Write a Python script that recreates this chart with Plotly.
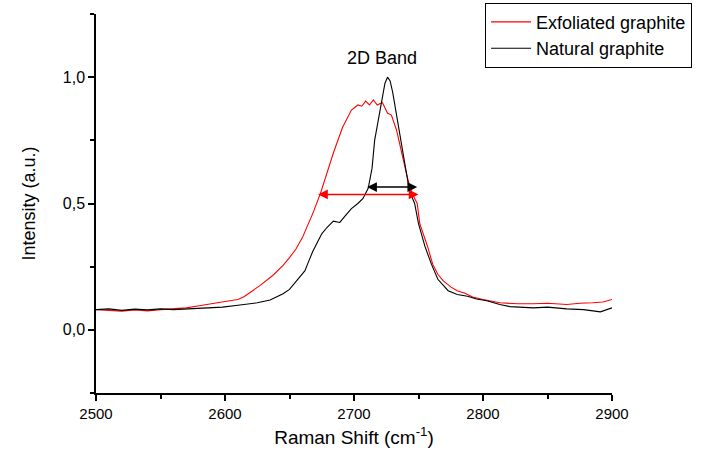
import plotly.graph_objects as go

# Raman shift (cm^-1) and intensity readings
x_exf = [2500, 2510, 2520, 2530, 2540, 2550, 2560, 2570, 2580, 2590, 2600, 2610, 2615, 2620, 2627, 2637,
         2645, 2650, 2655, 2660, 2665, 2668, 2674, 2677, 2684, 2691, 2698, 2703, 2706, 2709, 2712,
         2715, 2718, 2722, 2726, 2729, 2733, 2737, 2742, 2745, 2749, 2751, 2757, 2761, 2765, 2769,
         2775, 2780, 2786, 2792, 2800, 2813, 2827, 2839, 2850, 2865, 2875, 2885, 2893, 2900]
y_exf = [0.080, 0.078, 0.074, 0.079, 0.075, 0.080, 0.082, 0.087, 0.095, 0.105, 0.112, 0.120, 0.132,
         0.150, 0.175, 0.215, 0.255, 0.286, 0.320, 0.365, 0.420, 0.460, 0.540, 0.590, 0.700, 0.800,
         0.870, 0.890, 0.885, 0.905, 0.890, 0.910, 0.890, 0.900, 0.857, 0.850, 0.790, 0.700, 0.590,
         0.540, 0.500, 0.420, 0.330, 0.260, 0.220, 0.195, 0.170, 0.155, 0.145, 0.130, 0.120, 0.107,
         0.103, 0.103, 0.105, 0.100, 0.105, 0.107, 0.110, 0.120]

x_nat = [2500, 2510, 2520, 2530, 2540, 2550, 2560, 2573, 2585, 2598, 2610, 2625, 2635, 2645, 2650,
         2656, 2662, 2664, 2668, 2675, 2679, 2684, 2689, 2693, 2698, 2703, 2707, 2711, 2714, 2716,
         2719, 2722, 2724, 2726, 2728, 2730, 2733, 2736, 2739, 2741, 2743, 2747, 2750, 2755, 2760,
         2765, 2773, 2780, 2788, 2795, 2803, 2813, 2821, 2839, 2850, 2865, 2878, 2891, 2900]
y_nat = [0.080, 0.083, 0.077, 0.082, 0.079, 0.083, 0.080, 0.083, 0.086, 0.090, 0.097, 0.107, 0.118,
         0.143, 0.160, 0.195, 0.234, 0.260, 0.310, 0.380, 0.405, 0.430, 0.425, 0.450, 0.480, 0.500,
         0.520, 0.560, 0.640, 0.750, 0.840, 0.930, 0.976, 1.000, 0.985, 0.940, 0.857, 0.760, 0.670,
         0.600, 0.550, 0.500, 0.420, 0.330, 0.260, 0.200, 0.155, 0.140, 0.133, 0.122, 0.115, 0.100,
         0.092, 0.087, 0.090, 0.083, 0.080, 0.071, 0.087]

# FWHM arrows: [x_start, x_end], y level
fwhm_exf_x = [2671, 2750]
fwhm_exf_y = 0.536
fwhm_nat_x = [2709, 2749]
fwhm_nat_y = 0.565

x_ticks = [2500, 2600, 2700, 2800, 2900]
y_ticks = [0.0, 0.5, 1.0]
y_ticklabels = ["0,0", "0,5", "1,0"]

FONT = "Liberation Sans, Arial, sans-serif"

fig = go.Figure()
fig.add_trace(go.Scatter(x=x_exf, y=y_exf, mode="lines", name="Exfoliated graphite",
                         line=dict(color="#ff0000", width=1.1)))
fig.add_trace(go.Scatter(x=x_nat, y=y_nat, mode="lines", name="Natural graphite",
                         line=dict(color="#000000", width=1.1)))

for xs, yv, col in [(fwhm_exf_x, fwhm_exf_y, "#ff0000"), (fwhm_nat_x, fwhm_nat_y, "#000000")]:
    fig.add_annotation(x=xs[1], y=yv, ax=xs[0], ay=yv, xref="x", yref="y", axref="x", ayref="y",
                       text="", showarrow=True, arrowhead=2, startarrowhead=2, arrowside="end+start",
                       arrowsize=1.3, arrowwidth=1.5, arrowcolor=col)

fig.add_annotation(x=2722, y=1.075, xref="x", yref="y", text="2D Band", showarrow=False,
                   font=dict(size=18, color="black", family=FONT))

fig.update_layout(
    width=702, height=459,
    margin=dict(l=96, r=90, t=14, b=66, autoexpand=False),
    paper_bgcolor="white", plot_bgcolor="white",
    font=dict(family=FONT, color="black", size=15),
    showlegend=True,
    legend=dict(x=0.754, y=1.03, xanchor="left", yanchor="top",
                bordercolor="black", borderwidth=1, bgcolor="white",
                font=dict(size=18, family=FONT, color="black"), tracegroupgap=0, itemwidth=40),
    xaxis=dict(range=[2500, 2900], tickvals=x_ticks, showgrid=False, zeroline=False,
               showline=True, linecolor="black", linewidth=1.5, ticks="outside", ticklen=6,
               tickwidth=1.5, tickcolor="black", tickfont=dict(size=15),
               minor=dict(ticks="outside", ticklen=4, tickwidth=1.5, tickcolor="black", dtick=50, tick0=2500),
               title=dict(text="Raman Shift (cm<sup>-1</sup>)", font=dict(size=19), standoff=10)),
    yaxis=dict(range=[-0.25, 1.25], tickvals=y_ticks, ticktext=y_ticklabels, showgrid=False,
               zeroline=False, showline=True, linecolor="black", linewidth=1.5, ticks="outside",
               ticklen=6, tickwidth=1.5, tickcolor="black", tickfont=dict(size=16),
               minor=dict(ticks="outside", ticklen=4, tickwidth=1.5, tickcolor="black",
                          tickvals=[-0.25, 0.25, 0.75, 1.25]),
               title=dict(text="Intensity (a.u.)", font=dict(size=18), standoff=22)),
)

fig.write_html("out.html")
